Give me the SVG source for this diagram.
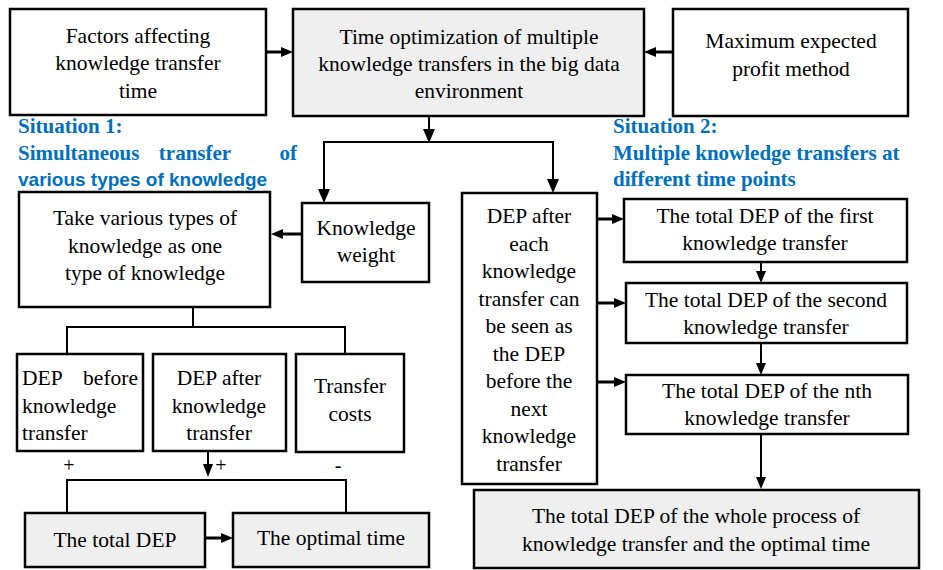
<svg xmlns="http://www.w3.org/2000/svg" width="943" height="570" viewBox="0 0 943 570">
<style>
.box{fill:#fff;stroke:#000;stroke-width:2.5}
.g{fill:#efefef}
.t{font-family:'Liberation Serif','Times New Roman',serif;font-size:21.5px;fill:#000;text-anchor:middle}
.l{text-anchor:start}
.e{text-anchor:end}
.s{font-family:'Liberation Serif','Times New Roman',serif;font-size:21px;font-weight:bold;fill:#0070C0}
.ss{font-family:'Liberation Sans',Arial,sans-serif;font-size:19px;font-weight:bold;fill:#0070C0}
.c{fill:none;stroke:#000;stroke-width:2}
.c3{fill:none;stroke:#000;stroke-width:3}
.h{fill:#000;stroke:none}
.sign{font-family:'Liberation Serif','Times New Roman',serif;font-size:20px;fill:#000;text-anchor:middle}
</style>

<g id="connectors">
<line class="c3" x1="266" y1="52" x2="282" y2="52"/>
<polygon class="h" points="293,52 281,47 281,57"/>
<line class="c3" x1="673" y1="52" x2="655" y2="52"/>
<polygon class="h" points="644,52 656,47 656,57"/>
<line class="c" x1="429" y1="116" x2="429" y2="130"/>
<polygon class="h" points="429,143 423,129 435,129"/>
<polyline class="c" points="324,190 324,142 553,142 553,180"/>
<polygon class="h" points="324,203 318,189 330,189"/>
<polygon class="h" points="553,193 547,179 559,179"/>
<line class="c3" x1="302" y1="234" x2="282" y2="234"/>
<polygon class="h" points="271,234 283,229 283,239"/>
<polyline class="c" points="193,307 193,327"/>
<polyline class="c" points="67,353 67,327 345,327 345,353"/>
<line class="c" x1="208" y1="452" x2="208" y2="465"/>
<polygon class="h" points="208,477 203,464 213,464"/>
<polyline class="c" points="67,512 67,480 346,480 346,512"/>
<line class="c3" x1="205" y1="538" x2="222" y2="538"/>
<polygon class="h" points="233,538 221,533 221,543"/>
<line class="c3" x1="597" y1="219" x2="613" y2="219"/>
<polygon class="h" points="624,219 612,214 612,224"/>
<line class="c3" x1="597" y1="303" x2="615" y2="303"/>
<polygon class="h" points="626,303 614,298 614,308"/>
<line class="c3" x1="597" y1="382" x2="615" y2="382"/>
<polygon class="h" points="626,382 614,377 614,387"/>
<line class="c" x1="761" y1="262" x2="761" y2="272"/>
<polygon class="h" points="761,283 756,271 766,271"/>
<line class="c" x1="761" y1="343" x2="761" y2="364"/>
<polygon class="h" points="761,375 756,363 766,363"/>
<line class="c" x1="761" y1="434" x2="761" y2="478"/>
<polygon class="h" points="761,489 756,477 766,477"/>
</g>

<g id="factors">
<rect class="box" x="10" y="9" width="256" height="106"/>
<text class="t" x="138" y="43">Factors affecting</text>
<text class="t" x="138" y="70">knowledge transfer</text>
<text class="t" x="138" y="98">time</text>
</g>
<g id="main">
<rect class="box g" x="293" y="9" width="351" height="107"/>
<text class="t" x="469" y="44">Time optimization of multiple</text>
<text class="t" x="469" y="71">knowledge transfers in the big data</text>
<text class="t" x="469" y="98">environment</text>
</g>
<g id="maxprofit">
<rect class="box" x="673" y="9" width="235" height="107"/>
<text class="t" x="791" y="48">Maximum expected</text>
<text class="t" x="791" y="76">profit method</text>
</g>

<g id="situation1">
<text class="s" x="18" y="133">Situation 1:</text>
<text class="s" x="18" y="160">Simultaneous</text>
<text class="s" x="195" y="160" style="text-anchor:middle">transfer</text>
<text class="s e" x="297" y="160">of</text>
<text class="ss" x="18" y="186">various types of knowledge</text>
</g>
<g id="situation2">
<text class="s" x="613" y="133">Situation 2:</text>
<text class="s" x="613" y="160">Multiple knowledge transfers at</text>
<text class="s" x="613" y="186">different time points</text>
</g>

<g id="takevarious">
<rect class="box" x="19" y="192" width="251" height="115"/>
<text class="t" x="145" y="225">Take various types of</text>
<text class="t" x="145" y="253">knowledge as one</text>
<text class="t" x="145" y="280">type of knowledge</text>
</g>
<g id="kweight">
<rect class="box" x="302" y="203" width="127" height="79"/>
<text class="t" x="366" y="235">Knowledge</text>
<text class="t" x="366" y="262">weight</text>
</g>

<g id="depbefore">
<rect class="box" x="17" y="354" width="126" height="97"/>
<text class="t l" x="22" y="385">DEP</text>
<text class="t e" x="138" y="385">before</text>
<text class="t l" x="22" y="413">knowledge</text>
<text class="t l" x="22" y="440">transfer</text>
</g>
<g id="depafter">
<rect class="box" x="153" y="354" width="133" height="97"/>
<text class="t" x="219" y="385">DEP after</text>
<text class="t" x="219" y="413">knowledge</text>
<text class="t" x="219" y="440">transfer</text>
</g>
<g id="costs">
<rect class="box" x="296" y="354" width="108" height="98"/>
<text class="t" x="350" y="393">Transfer</text>
<text class="t" x="350" y="421">costs</text>
</g>
<g id="signs">
<text class="sign" x="69" y="472">+</text>
<text class="sign" x="221" y="472">+</text>
<text class="sign" x="338" y="472">-</text>
</g>
<g id="totaldep">
<rect class="box g" x="25" y="513" width="180" height="54"/>
<text class="t" x="115" y="547">The total DEP</text>
</g>
<g id="optimal">
<rect class="box g" x="233" y="513" width="196" height="54"/>
<text class="t" x="331" y="545">The optimal time</text>
</g>

<g id="depeach">
<rect class="box" x="462" y="193" width="135" height="291"/>
<text class="t" x="529" y="223">DEP after</text>
<text class="t" x="529" y="251">each</text>
<text class="t" x="529" y="278">knowledge</text>
<text class="t" x="529" y="306">transfer can</text>
<text class="t" x="529" y="333">be seen as</text>
<text class="t" x="529" y="361">the DEP</text>
<text class="t" x="529" y="388">before the</text>
<text class="t" x="529" y="416">next</text>
<text class="t" x="529" y="443">knowledge</text>
<text class="t" x="529" y="471">transfer</text>
</g>
<g id="first">
<rect class="box" x="624" y="199" width="283" height="63"/>
<text class="t" x="765" y="223">The total DEP of the first</text>
<text class="t" x="765" y="250">knowledge transfer</text>
</g>
<g id="second">
<rect class="box" x="626" y="283" width="281" height="60"/>
<text class="t" x="766" y="307">The total DEP of the second</text>
<text class="t" x="766" y="334">knowledge transfer</text>
</g>
<g id="nth">
<rect class="box" x="626" y="375" width="282" height="59"/>
<text class="t" x="767" y="398">The total DEP of the nth</text>
<text class="t" x="767" y="425">knowledge transfer</text>
</g>
<g id="whole">
<rect class="box g" x="474" y="490" width="445" height="78"/>
<text class="t" x="696" y="523">The total DEP of the whole process of</text>
<text class="t" x="696" y="551">knowledge transfer and the optimal time</text>
</g>
</svg>
